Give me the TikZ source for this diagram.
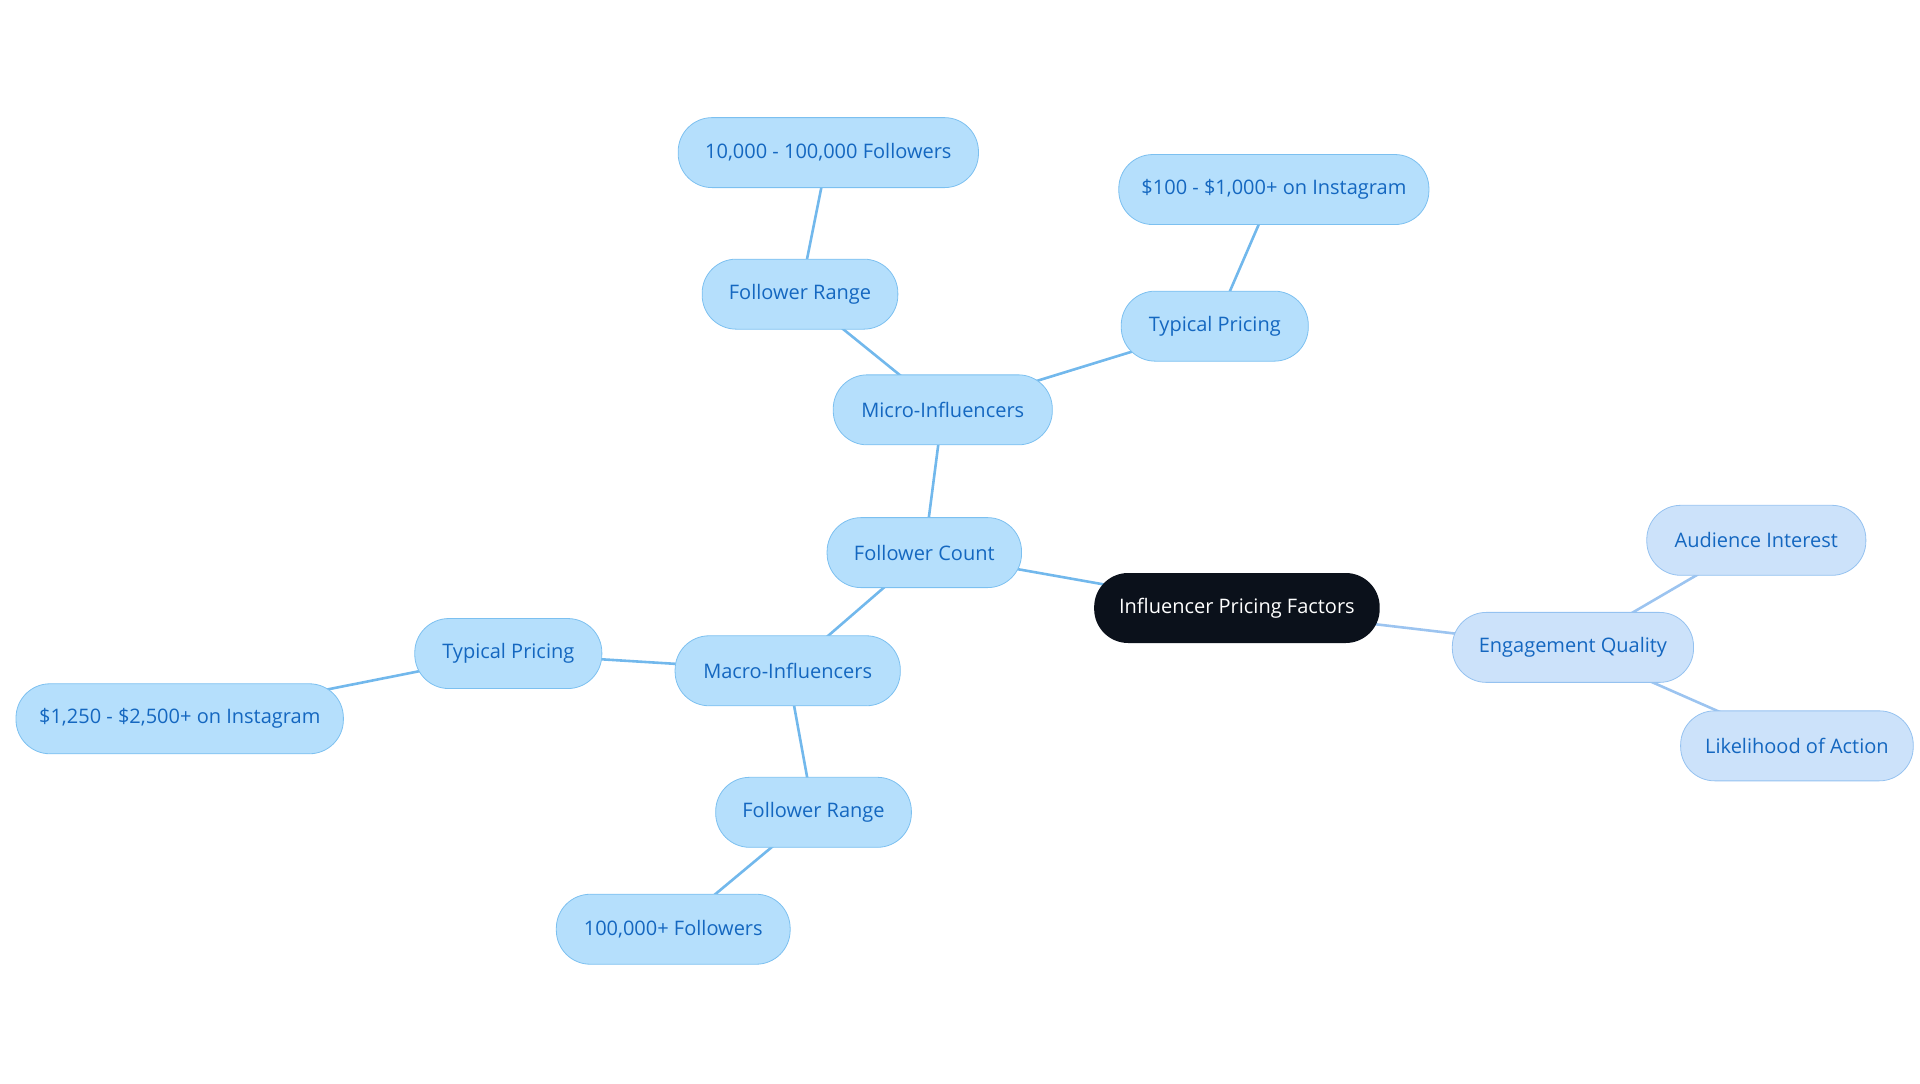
\documentclass[tikz,border=0pt]{standalone}
\usepackage{fontspec}
\setmainfont{Open Sans}
\definecolor{bfill}{HTML}{B5DFFC}
\definecolor{bdraw}{HTML}{7CC0F0}
\definecolor{btext}{HTML}{1467C0}
\definecolor{efill}{HTML}{CCE2FA}
\definecolor{edraw}{HTML}{95C2F0}
\definecolor{bline}{HTML}{72B8EC}
\definecolor{eline}{HTML}{9CC4F0}
\definecolor{rootfill}{HTML}{0B111B}
\begin{document}
\begin{tikzpicture}[x=0.6154pt,y=-0.6154pt,
 box/.style={rounded corners=17pt,minimum height=35pt,font=\fontsize{10}{12}\selectfont,inner sep=0pt},
 bb/.style={box,fill=bfill,draw=bdraw,text=btext},
 eb/.style={box,fill=efill,draw=edraw,text=btext},
 bl/.style={draw=bline,line width=1.3pt},
 el/.style={draw=eline,line width=1.3pt},
 wd/.style={minimum width=#1*0.6154pt}]
\useasboundingbox (0,0) rectangle (1560,880);
\path (1005,494) coordinate (rootc) (751,449) coordinate (fcc) (766,333) coordinate (mic)
 (650,239) coordinate (fr1c) (673,124) coordinate (f1c) (987,265) coordinate (tp1c) (1035,154) coordinate (p1c)
 (640,545) coordinate (mac) (413,531) coordinate (tp2c) (146,584) coordinate (p2c) (661,660) coordinate (fr2c)
 (547,755) coordinate (f2c) (1278,526) coordinate (eqc) (1427,439) coordinate (aic) (1460,606) coordinate (lac);
\draw[bl] (rootc)--(fcc) (fcc)--(mic) (mic)--(fr1c) (fr1c)--(f1c) (mic)--(tp1c) (tp1c)--(p1c)
 (fcc)--(mac) (mac)--(tp2c) (tp2c)--(p2c) (mac)--(fr2c) (fr2c)--(f2c);
\draw[el] (rootc)--(eqc) (eqc)--(aic) (eqc)--(lac);
\node[box,fill=rootfill,text=white,wd=232] (root) at (rootc) {Influencer Pricing Factors};
\node[bb,wd=158] (fc) at (fcc) {Follower Count};
\node[bb,wd=178] (mi) at (mic) {Micro-Influencers};
\node[bb,wd=159] (fr1) at (fr1c) {Follower Range};
\node[bb,wd=244] (f1) at (f1c) {10,000 - 100,000 Followers};
\node[bb,wd=152] (tp1) at (tp1c) {Typical Pricing};
\node[bb,wd=252] (p1) at (p1c) {\$100 - \$1,000+ on Instagram};
\node[bb,wd=183] (ma) at (mac) {Macro-Influencers};
\node[bb,wd=152] (tp2) at (tp2c) {Typical Pricing};
\node[bb,wd=266] (p2) at (p2c) {\$1,250 - \$2,500+ on Instagram};
\node[bb,wd=159] (fr2) at (fr2c) {Follower Range};
\node[bb,wd=190] (f2) at (f2c) {100,000+ Followers};
\node[eb,wd=196] (eq) at (eqc) {Engagement Quality};
\node[eb,wd=178] (ai) at (aic) {Audience Interest};
\node[eb,wd=189] (la) at (lac) {Likelihood of Action};
\end{tikzpicture}
\end{document}
